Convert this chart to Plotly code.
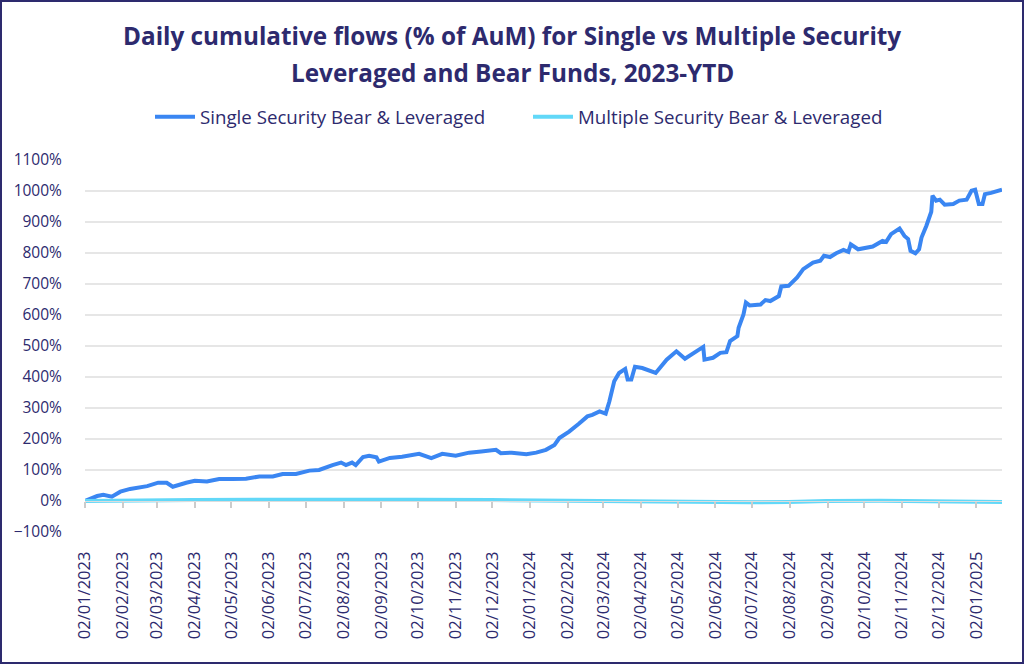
import plotly.graph_objects as go

# ---- data ----
single_dates = [
    "2023-01-02", "2023-01-12", "2023-01-17", "2023-01-24", "2023-01-31", "2023-02-08",
    "2023-02-22", "2023-03-03", "2023-03-10", "2023-03-15", "2023-03-26", "2023-04-02",
    "2023-04-12", "2023-04-22", "2023-05-03", "2023-05-14", "2023-05-25", "2023-06-05",
    "2023-06-13", "2023-06-24", "2023-07-05", "2023-07-13", "2023-07-24", "2023-07-31",
    "2023-08-04", "2023-08-09", "2023-08-12", "2023-08-18", "2023-08-23", "2023-08-29",
    "2023-08-31", "2023-09-09", "2023-09-19", "2023-10-03", "2023-10-13", "2023-10-22",
    "2023-11-02", "2023-11-13", "2023-11-23", "2023-12-05", "2023-12-09", "2023-12-18",
    "2023-12-30", "2024-01-07", "2024-01-15", "2024-01-22", "2024-01-26", "2024-02-03",
    "2024-02-11", "2024-02-18", "2024-02-22", "2024-02-28", "2024-03-04", "2024-03-07",
    "2024-03-11", "2024-03-15", "2024-03-20", "2024-03-22", "2024-03-25", "2024-03-28",
    "2024-04-03", "2024-04-14", "2024-04-23", "2024-05-01", "2024-05-08", "2024-05-16",
    "2024-05-23", "2024-05-24", "2024-05-31", "2024-06-06", "2024-06-11", "2024-06-14",
    "2024-06-20", "2024-06-21", "2024-06-25", "2024-06-27", "2024-06-30", "2024-07-09",
    "2024-07-13", "2024-07-17", "2024-07-24", "2024-07-26", "2024-08-01", "2024-08-08",
    "2024-08-13", "2024-08-21", "2024-08-27", "2024-08-30", "2024-09-04", "2024-09-09",
    "2024-09-15", "2024-09-19", "2024-09-21", "2024-09-27", "2024-10-04", "2024-10-09",
    "2024-10-17", "2024-10-20", "2024-10-24", "2024-10-31", "2024-11-04", "2024-11-07",
    "2024-11-09", "2024-11-13", "2024-11-16", "2024-11-18", "2024-11-22", "2024-11-26",
    "2024-11-27", "2024-11-30", "2024-12-03", "2024-12-07", "2024-12-14", "2024-12-19",
    "2024-12-25", "2024-12-29", "2025-01-01", "2025-01-04", "2025-01-07", "2025-01-09",
    "2025-01-14", "2025-01-21", "2025-01-23",
]
single_values = [
    0, 16, 20, 14, 30, 39,
    48, 59, 59, 46, 59, 65,
    63, 71, 71, 72, 79, 79,
    87, 87, 98, 100, 116, 124,
    116, 124, 116, 142, 146, 141,
    127, 139, 143, 152, 138, 152,
    146, 156, 160, 165, 154, 156,
    151, 156, 165, 181, 203, 224,
    249, 273, 278, 289, 282, 321,
    386, 413, 426, 392, 392, 433,
    429, 413, 456, 483, 459, 478,
    497, 456, 462, 478, 480, 516,
    532, 559, 602, 640, 631, 634,
    648, 645, 661, 692, 694, 721,
    748, 769, 775, 791, 787, 799,
    810, 804, 828, 812, 818, 821,
    839, 836, 861, 879, 855, 845,
    807, 799, 812, 850, 888, 933,
    985, 969, 972, 956, 958, 969,
    972, 1001, 1004, 958, 958, 990,
    994, 1001, 1004,
]

multi_dates = [
    "2023-01-02", "2023-02-01", "2023-04-01", "2023-06-01", "2023-08-01", "2023-10-01",
    "2023-12-01", "2024-01-15", "2024-03-01", "2024-04-15", "2024-06-01", "2024-07-01",
    "2024-08-01", "2024-09-01", "2024-10-15", "2024-12-01", "2025-01-23",
]
multi_values = [0, 2, 3, 4, 5, 4, 3, 1, -1, 0, -2, -4, -3, 0, 1, 0, -3]

series_names = ["Single Security Bear & Leveraged", "Multiple Security Bear & Leveraged"]
title_lines = [
    "Daily cumulative flows (% of AuM) for Single vs Multiple Security",
    "Leveraged and Bear Funds, 2023-YTD",
]

# ---- styling ----
NAVY = "#2d2a6e"
BLUE = "#3a86f2"
CYAN = "#62d8f8"
FONT = "Open Sans"
W, HGT = 1024, 664
L, R, T, B = 85, 22, 160, 132
PW, PH = W - L - R, HGT - T - B

fig = go.Figure()
fig.add_trace(go.Scatter(x=single_dates, y=single_values, mode="lines", name=series_names[0],
                         line=dict(color=BLUE, width=4), xaxis="x", yaxis="y"))
fig.add_trace(go.Scatter(x=multi_dates, y=multi_values, mode="lines", name=series_names[1],
                         line=dict(color=CYAN, width=4), xaxis="x2", yaxis="y"))

xrange = ["2023-01-02", "2025-01-23"]
ymin, ymax = -100, 1100

fig.update_layout(
    width=W, height=HGT,
    margin=dict(l=L, r=R, t=T, b=B),
    paper_bgcolor="white", plot_bgcolor="white",
    font=dict(family=FONT, color=NAVY, size=15),
    showlegend=True,
    legend=dict(orientation="h", x=(150 - L) / PW, xanchor="left", y=(PH + T - 117) / PH,
                yanchor="middle", font=dict(size=18.7, color=NAVY), itemwidth=40,
                entrywidth=323, entrywidthmode="pixels"),
    xaxis=dict(type="date", range=xrange, showgrid=False, zeroline=False, showline=False,
               tick0="2023-01-02", dtick="M1", tickformat="%d/%m/%Y", tickangle=-90,
               ticks="outside", ticklen=12, tickcolor="rgba(0,0,0,0)",
               tickfont=dict(size=16.5, color=NAVY)),
    xaxis2=dict(type="date", matches="x", overlaying="x", anchor="free",
                position=(0 - ymin) / (ymax - ymin), showgrid=False, zeroline=False,
                showticklabels=False, tick0="2023-01-02", dtick="M1",
                ticks="outside", ticklen=6, tickcolor="#cccccc", tickwidth=1.5,
                showline=True, linecolor="#dddddd", linewidth=1),
    yaxis=dict(range=[ymin, ymax], dtick=100, ticksuffix="%", showgrid=True,
               gridcolor="#e6e6e6", gridwidth=1.5, zeroline=False,
               ticks="outside", ticklen=19, tickcolor="rgba(0,0,0,0)",
               tickfont=dict(size=15.5, color=NAVY)),
)

for i, (txt, ypx) in enumerate(zip(title_lines, [35, 72])):
    fig.add_annotation(text=f"<b>{txt}</b>", xref="paper", yref="paper",
                       x=(512 - L) / PW, y=(PH + T - ypx) / PH, xanchor="center",
                       yanchor="middle", showarrow=False,
                       font=dict(size=24.3, color=NAVY, family=FONT))

# frame around the whole image
fig.add_shape(type="rect", xref="paper", yref="paper",
              x0=-(L - 1) / PW, x1=1 + (R - 1) / PW,
              y0=-(B - 1) / PH, y1=1 + (T - 1) / PH,
              line=dict(color=NAVY, width=2), fillcolor="rgba(0,0,0,0)", layer="above")

fig.write_html("out.html", config={"displayModeBar": False},
               post_script="document.body.style.margin='0';document.body.style.overflow='hidden';")
